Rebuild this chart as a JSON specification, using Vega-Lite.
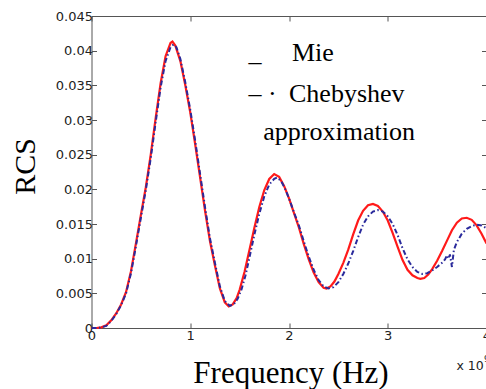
{
  "$schema": "https://vega.github.io/schema/vega-lite/v6.json",
  "width": 395,
  "height": 312,
  "autosize": "none",
  "padding": {"left": 91.5, "top": 16, "right": 0, "bottom": 61},
  "background": "white",
  "config": {
    "view": {"stroke": null},
    "axis": {
      "grid": false,
      "domainColor": "#555555",
      "domainWidth": 1,
      "tickColor": "#555555",
      "tickSize": -5,
      "tickWidth": 1,
      "labelFont": "DejaVu Sans",
      "labelFontSize": 13,
      "labelColor": "#222222",
      "titleFont": "Liberation Serif",
      "titleFontWeight": "normal",
      "titleColor": "#000000"
    }
  },
  "datasets": {
    "curves": [
      {"s": "Mie", "f": 0.0, "v": 0.0},
      {"s": "Mie", "f": 0.05, "v": 0.0},
      {"s": "Mie", "f": 0.1, "v": 0.0001},
      {"s": "Mie", "f": 0.15, "v": 0.0004},
      {"s": "Mie", "f": 0.2, "v": 0.0011},
      {"s": "Mie", "f": 0.25, "v": 0.0021},
      {"s": "Mie", "f": 0.3, "v": 0.0034},
      {"s": "Mie", "f": 0.35, "v": 0.0052},
      {"s": "Mie", "f": 0.4, "v": 0.0082},
      {"s": "Mie", "f": 0.45, "v": 0.0122},
      {"s": "Mie", "f": 0.5, "v": 0.0163},
      {"s": "Mie", "f": 0.55, "v": 0.0203},
      {"s": "Mie", "f": 0.6, "v": 0.0250},
      {"s": "Mie", "f": 0.65, "v": 0.0303},
      {"s": "Mie", "f": 0.7, "v": 0.0353},
      {"s": "Mie", "f": 0.75, "v": 0.0392},
      {"s": "Mie", "f": 0.8, "v": 0.0411},
      {"s": "Mie", "f": 0.82, "v": 0.0413},
      {"s": "Mie", "f": 0.85, "v": 0.0407},
      {"s": "Mie", "f": 0.9, "v": 0.0385},
      {"s": "Mie", "f": 0.95, "v": 0.0350},
      {"s": "Mie", "f": 1.0, "v": 0.0311},
      {"s": "Mie", "f": 1.05, "v": 0.0265},
      {"s": "Mie", "f": 1.1, "v": 0.0217},
      {"s": "Mie", "f": 1.15, "v": 0.0169},
      {"s": "Mie", "f": 1.2, "v": 0.0125},
      {"s": "Mie", "f": 1.25, "v": 0.0090},
      {"s": "Mie", "f": 1.3, "v": 0.0057},
      {"s": "Mie", "f": 1.35, "v": 0.0037},
      {"s": "Mie", "f": 1.39, "v": 0.0031},
      {"s": "Mie", "f": 1.43, "v": 0.0034},
      {"s": "Mie", "f": 1.47, "v": 0.0043},
      {"s": "Mie", "f": 1.5, "v": 0.0055},
      {"s": "Mie", "f": 1.55, "v": 0.0081},
      {"s": "Mie", "f": 1.6, "v": 0.0113},
      {"s": "Mie", "f": 1.65, "v": 0.0145},
      {"s": "Mie", "f": 1.7, "v": 0.0175},
      {"s": "Mie", "f": 1.75, "v": 0.0199},
      {"s": "Mie", "f": 1.8, "v": 0.0215},
      {"s": "Mie", "f": 1.85, "v": 0.0222},
      {"s": "Mie", "f": 1.9, "v": 0.0218},
      {"s": "Mie", "f": 1.95, "v": 0.0205},
      {"s": "Mie", "f": 2.0, "v": 0.0187},
      {"s": "Mie", "f": 2.05, "v": 0.0166},
      {"s": "Mie", "f": 2.1, "v": 0.0145},
      {"s": "Mie", "f": 2.15, "v": 0.0121},
      {"s": "Mie", "f": 2.2, "v": 0.0099},
      {"s": "Mie", "f": 2.25, "v": 0.0080},
      {"s": "Mie", "f": 2.3, "v": 0.0066},
      {"s": "Mie", "f": 2.35, "v": 0.0058},
      {"s": "Mie", "f": 2.38, "v": 0.0057},
      {"s": "Mie", "f": 2.42, "v": 0.0060},
      {"s": "Mie", "f": 2.46, "v": 0.0067},
      {"s": "Mie", "f": 2.5, "v": 0.0078},
      {"s": "Mie", "f": 2.55, "v": 0.0094},
      {"s": "Mie", "f": 2.6, "v": 0.0113},
      {"s": "Mie", "f": 2.65, "v": 0.0135},
      {"s": "Mie", "f": 2.7, "v": 0.0155},
      {"s": "Mie", "f": 2.75, "v": 0.0169},
      {"s": "Mie", "f": 2.8, "v": 0.0177},
      {"s": "Mie", "f": 2.85, "v": 0.0179},
      {"s": "Mie", "f": 2.9, "v": 0.0176},
      {"s": "Mie", "f": 2.95, "v": 0.0168},
      {"s": "Mie", "f": 3.0, "v": 0.0155},
      {"s": "Mie", "f": 3.05, "v": 0.0137},
      {"s": "Mie", "f": 3.1, "v": 0.0117},
      {"s": "Mie", "f": 3.15, "v": 0.0098},
      {"s": "Mie", "f": 3.2, "v": 0.0084},
      {"s": "Mie", "f": 3.25, "v": 0.0076},
      {"s": "Mie", "f": 3.3, "v": 0.0072},
      {"s": "Mie", "f": 3.33, "v": 0.0071},
      {"s": "Mie", "f": 3.37, "v": 0.0072},
      {"s": "Mie", "f": 3.41, "v": 0.0077},
      {"s": "Mie", "f": 3.45, "v": 0.0085},
      {"s": "Mie", "f": 3.5, "v": 0.0097},
      {"s": "Mie", "f": 3.55, "v": 0.0111},
      {"s": "Mie", "f": 3.6, "v": 0.0126},
      {"s": "Mie", "f": 3.65, "v": 0.0141},
      {"s": "Mie", "f": 3.7, "v": 0.0152},
      {"s": "Mie", "f": 3.75, "v": 0.0158},
      {"s": "Mie", "f": 3.8, "v": 0.0159},
      {"s": "Mie", "f": 3.85, "v": 0.0156},
      {"s": "Mie", "f": 3.9, "v": 0.0148},
      {"s": "Mie", "f": 3.95, "v": 0.0136},
      {"s": "Mie", "f": 4.0, "v": 0.0122},
      {"s": "Cheb", "f": 0.0, "v": 0.0},
      {"s": "Cheb", "f": 0.05, "v": 0.0},
      {"s": "Cheb", "f": 0.1, "v": 0.0001},
      {"s": "Cheb", "f": 0.15, "v": 0.0003},
      {"s": "Cheb", "f": 0.2, "v": 0.0010},
      {"s": "Cheb", "f": 0.25, "v": 0.0020},
      {"s": "Cheb", "f": 0.3, "v": 0.0033},
      {"s": "Cheb", "f": 0.35, "v": 0.0050},
      {"s": "Cheb", "f": 0.4, "v": 0.0079},
      {"s": "Cheb", "f": 0.45, "v": 0.0118},
      {"s": "Cheb", "f": 0.5, "v": 0.0159},
      {"s": "Cheb", "f": 0.55, "v": 0.0199},
      {"s": "Cheb", "f": 0.6, "v": 0.0245},
      {"s": "Cheb", "f": 0.65, "v": 0.0297},
      {"s": "Cheb", "f": 0.7, "v": 0.0347},
      {"s": "Cheb", "f": 0.75, "v": 0.0385},
      {"s": "Cheb", "f": 0.8, "v": 0.0405},
      {"s": "Cheb", "f": 0.83, "v": 0.0409},
      {"s": "Cheb", "f": 0.86, "v": 0.0405},
      {"s": "Cheb", "f": 0.9, "v": 0.0388},
      {"s": "Cheb", "f": 0.95, "v": 0.0354},
      {"s": "Cheb", "f": 1.0, "v": 0.0315},
      {"s": "Cheb", "f": 1.05, "v": 0.0270},
      {"s": "Cheb", "f": 1.1, "v": 0.0222},
      {"s": "Cheb", "f": 1.15, "v": 0.0174},
      {"s": "Cheb", "f": 1.2, "v": 0.0129},
      {"s": "Cheb", "f": 1.25, "v": 0.0094},
      {"s": "Cheb", "f": 1.3, "v": 0.0060},
      {"s": "Cheb", "f": 1.35, "v": 0.0039},
      {"s": "Cheb", "f": 1.4, "v": 0.0032},
      {"s": "Cheb", "f": 1.44, "v": 0.0034},
      {"s": "Cheb", "f": 1.48, "v": 0.0042},
      {"s": "Cheb", "f": 1.52, "v": 0.0056},
      {"s": "Cheb", "f": 1.56, "v": 0.0076},
      {"s": "Cheb", "f": 1.6, "v": 0.0102},
      {"s": "Cheb", "f": 1.65, "v": 0.0135},
      {"s": "Cheb", "f": 1.7, "v": 0.0165},
      {"s": "Cheb", "f": 1.75, "v": 0.0190},
      {"s": "Cheb", "f": 1.8, "v": 0.0207},
      {"s": "Cheb", "f": 1.85, "v": 0.0215},
      {"s": "Cheb", "f": 1.88, "v": 0.0217},
      {"s": "Cheb", "f": 1.92, "v": 0.0212},
      {"s": "Cheb", "f": 1.96, "v": 0.0201},
      {"s": "Cheb", "f": 2.0, "v": 0.0187},
      {"s": "Cheb", "f": 2.05, "v": 0.0167},
      {"s": "Cheb", "f": 2.1, "v": 0.0148},
      {"s": "Cheb", "f": 2.15, "v": 0.0125},
      {"s": "Cheb", "f": 2.2, "v": 0.0103},
      {"s": "Cheb", "f": 2.25, "v": 0.0084},
      {"s": "Cheb", "f": 2.3, "v": 0.0069},
      {"s": "Cheb", "f": 2.35, "v": 0.0060},
      {"s": "Cheb", "f": 2.4, "v": 0.0057},
      {"s": "Cheb", "f": 2.45, "v": 0.0059},
      {"s": "Cheb", "f": 2.5, "v": 0.0066},
      {"s": "Cheb", "f": 2.55, "v": 0.0078},
      {"s": "Cheb", "f": 2.6, "v": 0.0093},
      {"s": "Cheb", "f": 2.65, "v": 0.0111},
      {"s": "Cheb", "f": 2.7, "v": 0.0131},
      {"s": "Cheb", "f": 2.75, "v": 0.0149},
      {"s": "Cheb", "f": 2.8, "v": 0.0161},
      {"s": "Cheb", "f": 2.85, "v": 0.0168},
      {"s": "Cheb", "f": 2.9, "v": 0.0170},
      {"s": "Cheb", "f": 2.95, "v": 0.0168},
      {"s": "Cheb", "f": 3.0, "v": 0.0161},
      {"s": "Cheb", "f": 3.05, "v": 0.0150},
      {"s": "Cheb", "f": 3.1, "v": 0.0134},
      {"s": "Cheb", "f": 3.15, "v": 0.0115},
      {"s": "Cheb", "f": 3.2, "v": 0.0099},
      {"s": "Cheb", "f": 3.25, "v": 0.0088},
      {"s": "Cheb", "f": 3.3, "v": 0.0081},
      {"s": "Cheb", "f": 3.35, "v": 0.0078},
      {"s": "Cheb", "f": 3.4, "v": 0.0079},
      {"s": "Cheb", "f": 3.45, "v": 0.0083},
      {"s": "Cheb", "f": 3.5, "v": 0.0088},
      {"s": "Cheb", "f": 3.55, "v": 0.0094},
      {"s": "Cheb", "f": 3.58, "v": 0.0099},
      {"s": "Cheb", "f": 3.6, "v": 0.0105},
      {"s": "Cheb", "f": 3.615, "v": 0.0100},
      {"s": "Cheb", "f": 3.63, "v": 0.0106},
      {"s": "Cheb", "f": 3.65, "v": 0.0088},
      {"s": "Cheb", "f": 3.67, "v": 0.0113},
      {"s": "Cheb", "f": 3.7, "v": 0.0124},
      {"s": "Cheb", "f": 3.75, "v": 0.0136},
      {"s": "Cheb", "f": 3.8, "v": 0.0143},
      {"s": "Cheb", "f": 3.85, "v": 0.0147},
      {"s": "Cheb", "f": 3.9, "v": 0.0149},
      {"s": "Cheb", "f": 3.95, "v": 0.0148},
      {"s": "Cheb", "f": 4.0, "v": 0.0144}
    ],
    "notes": [
      {"f": 1.59, "v": 0.0385, "t": "_", "k": "serif"},
      {"f": 2.03, "v": 0.0385, "t": "Mie", "k": "serif"},
      {"f": 1.59, "v": 0.03266, "t": "– ·", "k": "serif"},
      {"f": 2.0, "v": 0.03266, "t": "Chebyshev", "k": "serif"},
      {"f": 1.74, "v": 0.02712, "t": "approximation", "k": "serif"}
    ],
    "mult": [
      {"f": 3.696, "v": -0.0061, "t": "x 10"}
    ],
    "sup": [
      {"f": 3.975, "v": -0.0049, "t": "9"}
    ]
  },
  "layer": [
    {
      "data": {"name": "curves"},
      "transform": [{"filter": "datum.s === 'Mie'"}],
      "mark": {"type": "line", "color": "#ff1a1a", "strokeWidth": 2.2},
      "encoding": {
        "x": {
          "field": "f", "type": "quantitative",
          "scale": {"domain": [0, 4], "nice": false, "zero": false},
          "axis": {
            "orient": "bottom",
            "values": [0, 1, 2, 3, 4],
            "format": "d",
            "labelPadding": 6,
            "title": "Frequency (Hz)",
            "titleFontSize": 31,
            "titleX": 199,
            "titleY": 54,
            "titleAlign": "center",
            "titleBaseline": "alphabetic",
            "labelFlush": false
          }
        },
        "y": {
          "field": "v", "type": "quantitative",
          "scale": {"domain": [0, 0.045], "nice": false, "zero": false},
          "axis": {
            "orient": "left",
            "values": [0, 0.005, 0.01, 0.015, 0.02, 0.025, 0.03, 0.035, 0.04, 0.045],
            "format": "~f",
            "labelPadding": 4,
            "title": "RCS",
            "titleFontSize": 30,
            "titleAngle": -90,
            "titleX": -57,
            "titleY": 150,
            "titleAlign": "center",
            "titleBaseline": "alphabetic",
            "labelFlush": false
          }
        }
      }
    },
    {
      "data": {"name": "curves"},
      "transform": [{"filter": "datum.s === 'Cheb'"}],
      "mark": {"type": "line", "color": "#2a2a9c", "strokeWidth": 2, "strokeDash": [5, 2.5, 1.5, 2.5]},
      "encoding": {
        "x": {
          "field": "f", "type": "quantitative",
          "axis": {"orient": "top", "values": [0, 1, 2, 3, 4], "labels": false, "title": null}
        },
        "y": {
          "field": "v", "type": "quantitative",
          "axis": {"orient": "right", "values": [0, 0.005, 0.01, 0.015, 0.02, 0.025, 0.03, 0.035, 0.04, 0.045], "labels": false, "title": null}
        }
      }
    },
    {
      "data": {"name": "notes"},
      "mark": {"type": "text", "font": "Liberation Serif", "fontSize": 26, "align": "left", "baseline": "alphabetic", "color": "#000000"},
      "encoding": {
        "x": {"field": "f", "type": "quantitative", "axis": null},
        "y": {"field": "v", "type": "quantitative", "axis": null},
        "text": {"field": "t"}
      }
    },
    {
      "data": {"name": "mult"},
      "mark": {"type": "text", "font": "DejaVu Sans", "fontSize": 12.5, "align": "left", "baseline": "alphabetic", "color": "#222222"},
      "encoding": {
        "x": {"field": "f", "type": "quantitative", "axis": null},
        "y": {"field": "v", "type": "quantitative", "axis": null},
        "text": {"field": "t"}
      }
    },
    {
      "data": {"name": "sup"},
      "mark": {"type": "text", "font": "DejaVu Sans", "fontSize": 9, "align": "left", "baseline": "alphabetic", "color": "#222222"},
      "encoding": {
        "x": {"field": "f", "type": "quantitative", "axis": null},
        "y": {"field": "v", "type": "quantitative", "axis": null},
        "text": {"field": "t"}
      }
    }
  ]
}
